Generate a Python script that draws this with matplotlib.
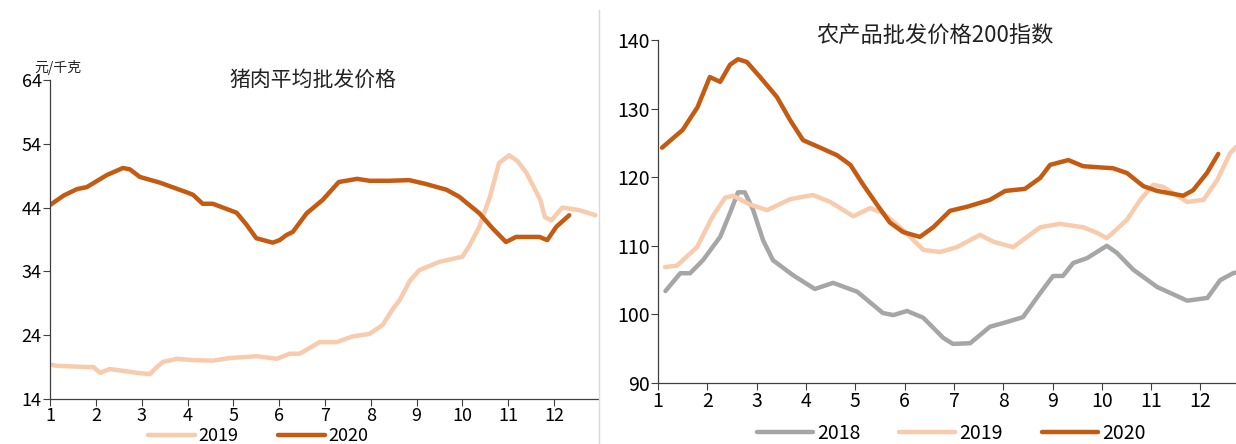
import matplotlib
matplotlib.use("Agg")
import matplotlib.pyplot as plt
from matplotlib.lines import Line2D

plt.rcParams['font.family'] = ['Noto Sans CJK SC', 'DejaVu Sans']

# ---- left panel: pork wholesale price (yuan/kg), x = month ----
pork_2019_x = [1.0, 1.15, 1.8, 1.95, 2.09, 2.3, 2.6, 2.9, 3.18, 3.3, 3.46, 3.77, 4.1, 4.55,
               4.9, 5.5, 5.95, 6.23, 6.45, 6.88, 7.25, 7.6, 7.97, 8.26, 8.47, 8.63, 8.85,
               9.06, 9.5, 10.0, 10.15, 10.37, 10.6, 10.8, 11.02, 11.2, 11.4, 11.7, 11.8,
               11.94, 12.18, 12.55, 12.9]
pork_2019_y = [19.4, 19.2, 19.0, 19.0, 18.1, 18.7, 18.4, 18.1, 17.9, 18.8, 19.8, 20.3, 20.1, 20.0,
               20.4, 20.7, 20.3, 21.1, 21.1, 22.9, 22.9, 23.8, 24.2, 25.6, 28.0, 29.5, 32.5,
               34.2, 35.5, 36.3, 38.0, 41.0, 45.7, 51.0, 52.2, 51.3, 49.4, 45.2, 42.5,
               42.0, 44.0, 43.6, 42.8]

pork_2020_x = [1.0, 1.3, 1.59, 1.8, 2.24, 2.59, 2.74, 2.96, 3.4, 3.98, 4.12, 4.33, 4.55, 5.07,
               5.29, 5.5, 5.86, 6.01, 6.16, 6.3, 6.6, 6.95, 7.3, 7.7, 7.97, 8.4, 8.84, 9.2,
               9.65, 9.93, 10.37, 10.65, 10.95, 11.17, 11.68, 11.85, 12.05, 12.33]
pork_2020_y = [44.4, 45.9, 46.9, 47.2, 49.1, 50.2, 50.0, 48.8, 47.9, 46.4, 46.0, 44.6, 44.6, 43.2,
               41.3, 39.2, 38.5, 38.9, 39.7, 40.2, 43.1, 45.2, 48.0, 48.5, 48.2, 48.2, 48.3, 47.7,
               46.8, 45.7, 43.1, 40.8, 38.6, 39.4, 39.4, 38.9, 41.0, 42.8]

# ---- right panel: agricultural wholesale price 200 index ----
idx_2018_x = [1.15, 1.45, 1.65, 1.91, 2.26, 2.46, 2.62, 2.76, 2.93, 3.13, 3.33, 3.74, 4.18, 4.55,
              5.04, 5.56, 5.77, 6.05, 6.38, 6.78, 6.98, 7.33, 7.73, 8.08, 8.4, 8.75, 9.01,
              9.21, 9.42, 9.7, 10.1, 10.3, 10.64, 11.12, 11.73, 12.14, 12.4, 12.66, 12.72]
idx_2018_y = [103.4, 106.0, 106.0, 107.9, 111.3, 114.8, 117.8, 117.8, 115.2, 110.8, 107.9, 105.7,
              103.7, 104.6, 103.3, 100.2, 99.9, 100.5, 99.5, 96.6, 95.7, 95.8, 98.2, 98.9, 99.6,
              103.1, 105.6, 105.6, 107.5, 108.2, 110.0, 109.0, 106.5, 104.0, 102.0, 102.4,
              105.0, 106.0, 106.1]

idx_2019_x = [1.14, 1.38, 1.79, 2.1, 2.36, 2.52, 2.87, 3.21, 3.68, 4.14, 4.49, 4.96, 5.3, 5.56,
              5.97, 6.38, 6.72, 7.06, 7.53, 7.8, 8.2, 8.75, 9.15, 9.62, 9.9, 10.1, 10.51,
              10.78, 11.04, 11.24, 11.73, 12.06, 12.34, 12.6, 12.72]
idx_2019_y = [106.9, 107.1, 109.8, 114.2, 117.0, 117.3, 116.0, 115.2, 116.8, 117.4, 116.4, 114.3,
              115.5, 114.8, 112.3, 109.4, 109.1, 109.8, 111.6, 110.6, 109.8, 112.7, 113.2, 112.7,
              111.9, 111.1, 113.8, 116.7, 118.9, 118.6, 116.4, 116.7, 119.6, 123.5, 124.4]

idx_2020_x = [1.08, 1.5, 1.8, 2.05, 2.26, 2.46, 2.62, 2.8, 3.07, 3.41, 3.68, 3.94, 4.29, 4.63,
              4.9, 5.16, 5.44, 5.7, 5.97, 6.31, 6.58, 6.92, 7.27, 7.73, 8.04, 8.44, 8.75,
              8.95, 9.32, 9.62, 10.23, 10.51, 10.84, 11.12, 11.65, 11.85, 12.13, 12.36]
idx_2020_y = [124.3, 126.9, 130.2, 134.6, 133.9, 136.4, 137.2, 136.8, 134.6, 131.7, 128.3, 125.4,
              124.3, 123.2, 121.8, 118.9, 116.0, 113.4, 112.0, 111.3, 112.7, 115.1, 115.7,
              116.7, 118.0, 118.3, 119.9, 121.8, 122.5, 121.6, 121.3, 120.6, 118.7, 118.0,
              117.3, 118.1, 120.6, 123.4]

months = list(range(1, 13))
c_dark = '#C55A11'
c_light = '#F8CBAD'
c_gray = '#A6A6A6'

fig = plt.figure(figsize=(12.36, 4.44), dpi=100)
ax1 = fig.add_axes([0.0405, 0.1014, 0.443, 0.7185])
ax2 = fig.add_axes([0.5324, 0.1374, 0.4676, 0.7725])

line_kw = dict(lw=3.2, solid_capstyle='round', solid_joinstyle='round')

ax1.plot(pork_2019_x, pork_2019_y, color=c_light, label='2019', **line_kw)
ax1.plot(pork_2020_x, pork_2020_y, color=c_dark, label='2020', **line_kw)
ax1.set_xlim(1, 12.95)
ax1.set_ylim(14, 64)
ax1.set_yticks(range(14, 65, 10))
ax1.set_xticks(months)
ax1.tick_params(labelsize=13, length=5, width=0.8, pad=1, color='#404040')

ax2.plot(idx_2018_x, idx_2018_y, color=c_gray, label='2018', **line_kw)
ax2.plot(idx_2019_x, idx_2019_y, color=c_light, label='2019', **line_kw)
ax2.plot(idx_2020_x, idx_2020_y, color=c_dark, label='2020', **line_kw)
ax2.set_xlim(1, 12.72)
ax2.set_ylim(90, 140)
ax2.set_yticks(range(90, 141, 10))
ax2.set_xticks(months)
ax2.tick_params(labelsize=14, length=5, width=0.8, pad=1, color='#404040')

for ax in (ax1, ax2):
    for s in ('top', 'right'):
        ax.spines[s].set_visible(False)
    for s in ('left', 'bottom'):
        ax.spines[s].set_color('#404040')
        ax.spines[s].set_linewidth(0.9)
    ax.set_facecolor('none')

ax1.text(0.48, 1.0, '猪肉平均批发价格', transform=ax1.transAxes, ha='center',
         va='center', fontsize=15, color='#222222')
ax2.text(0.48, 1.01, '农产品批发价格200指数', transform=ax2.transAxes, ha='center',
         va='center', fontsize=16, color='#222222')
fig.text(0.047, 0.847, '元/千克', ha='center', va='center', fontsize=10,
         color='#222222')

ax1.legend(loc='center', bbox_to_anchor=(258 / 1236, 1 - 436 / 444),
           bbox_transform=fig.transFigure, ncol=2, frameon=False, fontsize=13,
           handlelength=2.6, handletextpad=0.2, columnspacing=2.2)
ax2.legend(loc='center', bbox_to_anchor=(951 / 1236, 1 - 433 / 444),
           bbox_transform=fig.transFigure, ncol=3, frameon=False, fontsize=14,
           handlelength=2.9, handletextpad=0.2, columnspacing=2.0)

fig.add_artist(Line2D([599 / 1236, 599 / 1236], [0, 0.978], color='#d9d9d9', lw=1))

fig.savefig('out.png', dpi=100)
